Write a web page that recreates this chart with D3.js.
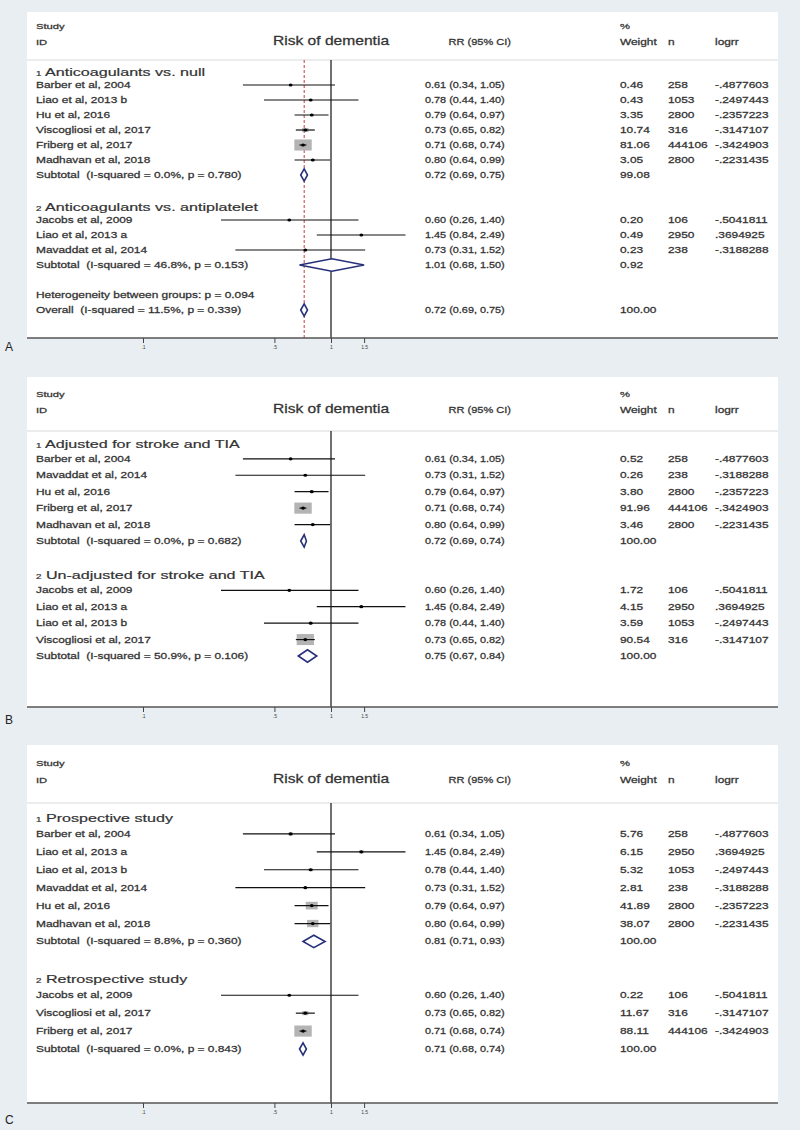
<!DOCTYPE html>
<html>
<head>
<meta charset="utf-8">
<script src="https://cdn.jsdelivr.net/npm/d3@7"></script>
<style>
html, body { margin: 0; padding: 0; background: #e8eef1; }
svg { display: block; font-family: "Liberation Sans", Arial, sans-serif; }
svg text { white-space: pre; }
</style>
</head>
<body>
<div id="chart"></div>
<script>
// studies (same estimates in every panel, only the weights change)
const studyNames = ["Barber et al, 2004", "Liao et al, 2013 a", "Liao et al, 2013 b", "Jacobs et al, 2009",
    "Mavaddat et al, 2014", "Hu et al, 2016", "Viscogliosi et al, 2017", "Friberg et al, 2017", "Madhavan et al, 2018"];
const studyRR = [0.61, 1.45, 0.78, 0.60, 0.73, 0.79, 0.73, 0.71, 0.80];
const studyLo = [0.34, 0.84, 0.44, 0.26, 0.31, 0.64, 0.65, 0.68, 0.64];
const studyHi = [1.05, 2.49, 1.40, 1.40, 1.52, 0.97, 0.82, 0.74, 0.99];
const studyN = [258, 2950, 1053, 106, 238, 2800, 316, 444106, 2800];
const studyLogrr = ["-.4877603", ".3694925", "-.2497443", "-.5041811", "-.3188288", "-.2357223", "-.3147107", "-.3424903", "-.2231435"];

// panel A
const groupsA = ["Anticoagulants vs. null", "Anticoagulants vs. antiplatelet"];
const membersA = [
    ["Barber et al, 2004", "Liao et al, 2013 b", "Hu et al, 2016", "Viscogliosi et al, 2017", "Friberg et al, 2017", "Madhavan et al, 2018"],
    ["Jacobs et al, 2009", "Liao et al, 2013 a", "Mavaddat et al, 2014"]
];
const weightsA = [[0.46, 0.43, 3.35, 10.74, 81.06, 3.05], [0.20, 0.49, 0.23]];
const subEstA = [[0.72, 0.69, 0.75], [1.01, 0.68, 1.50]];
const subStatA = ["I-squared = 0.0%, p = 0.780", "I-squared = 46.8%, p = 0.153"];
const subWeightA = ["99.08", "0.92"];
const hetTextA = "Heterogeneity between groups: p = 0.094";
const overallStatA = "I-squared = 11.5%, p = 0.339";
const overallEstA = [0.72, 0.69, 0.75];
const overallWeightA = "100.00";

// panel B
const groupsB = ["Adjusted for stroke and TIA", "Un-adjusted for stroke and TIA"];
const membersB = [
    ["Barber et al, 2004", "Mavaddat et al, 2014", "Hu et al, 2016", "Friberg et al, 2017", "Madhavan et al, 2018"],
    ["Jacobs et al, 2009", "Liao et al, 2013 a", "Liao et al, 2013 b", "Viscogliosi et al, 2017"]
];
const weightsB = [[0.52, 0.26, 3.80, 91.96, 3.46], [1.72, 4.15, 3.59, 90.54]];
const subEstB = [[0.72, 0.69, 0.74], [0.75, 0.67, 0.84]];
const subStatB = ["I-squared = 0.0%, p = 0.682", "I-squared = 50.9%, p = 0.106"];
const subWeightB = ["100.00", "100.00"];

// panel C
const groupsC = ["Prospective study", "Retrospective study"];
const membersC = [
    ["Barber et al, 2004", "Liao et al, 2013 a", "Liao et al, 2013 b", "Mavaddat et al, 2014", "Hu et al, 2016", "Madhavan et al, 2018"],
    ["Jacobs et al, 2009", "Viscogliosi et al, 2017", "Friberg et al, 2017"]
];
const weightsC = [[5.76, 6.15, 5.32, 2.81, 41.89, 38.07], [0.22, 11.67, 88.11]];
const subEstC = [[0.81, 0.71, 0.93], [0.71, 0.68, 0.74]];
const subStatC = ["I-squared = 8.8%, p = 0.360", "I-squared = 0.0%, p = 0.843"];
const subWeightC = ["100.00", "100.00"];

// axis
const tickValues = [0.1, 0.5, 1, 1.5];
const tickLabels = [".1", ".5", "1", "1.5"];

const W = 800, H = 1130;
const panelLeft = 27, panelRight = 778;
const col = { label: 36, rr: 425, weight: 620, n: 668, logrr: 715 };
const textColor = "#333";
const diamondColor = "#27307a";

const svg = d3.select("#chart").append("svg")
    .attr("width", W)
    .attr("height", H);

svg.append("rect")
    .attr("width", W)
    .attr("height", H)
    .attr("fill", "#e8eef1");

const x = d3.scaleLog().domain([0.1, 1]).range([143, 331]);

const fmt = d3.format(".2f");

// text is stretched sideways in the original picture
const txt = (g, px, py, s, o = {}) => g.append("text")
    .attr("transform", `translate(${px},${py}) scale(${o.sx || 1.4},1)`)
    .attr("dy", "0.35em")
    .attr("font-size", o.size || 8.5)
    .attr("text-anchor", o.anchor || "start")
    .attr("fill", o.fill || textColor)
    .attr("stroke", o.fill || textColor)
    .attr("stroke-width", 0.25)
    .text(s);

const buildRows = (groups, members, weights, subEst, subStat, subWeight) => {
    const rows = [];
    groups.forEach((title, gi) => {
        if (gi > 0) rows.push({ type: "blank" });
        rows.push({ type: "group", num: gi + 1, title });
        members[gi].forEach((name, si) => {
            const k = studyNames.indexOf(name);
            rows.push({
                type: "study", name,
                rr: studyRR[k], lo: studyLo[k], hi: studyHi[k],
                w: weights[gi][si], n: studyN[k], logrr: studyLogrr[k]
            });
        });
        rows.push({
            type: "sub", name: `Subtotal  (${subStat[gi]})`,
            rr: subEst[gi][0], lo: subEst[gi][1], hi: subEst[gi][2], wText: subWeight[gi]
        });
    });
    return rows;
};

const rowsA = buildRows(groupsA, membersA, weightsA, subEstA, subStatA, subWeightA);
rowsA.push({ type: "blank" });
rowsA.push({ type: "het", name: hetTextA });
rowsA.push({
    type: "sub", name: `Overall  (${overallStatA})`,
    rr: overallEstA[0], lo: overallEstA[1], hi: overallEstA[2], wText: overallWeightA
});
const rowsB = buildRows(groupsB, membersB, weightsB, subEstB, subStatB, subWeightB);
const rowsC = buildRows(groupsC, membersC, weightsC, subEstC, subStatC, subWeightC);

const drawPanel = (rows, lay) => {
    const g = svg.append("g");

    g.append("rect")
        .attr("x", panelLeft)
        .attr("y", lay.top)
        .attr("width", panelRight - panelLeft)
        .attr("height", lay.axisY - lay.top)
        .attr("fill", "#fff");

    g.append("line")
        .attr("x1", panelLeft).attr("x2", panelRight)
        .attr("y1", lay.headY).attr("y2", lay.headY)
        .attr("stroke", "#d6d9dc")
        .attr("stroke-width", 1.2);

    // header
    txt(g, col.label, lay.studyY, "Study", { size: 8 });
    txt(g, col.label, lay.idY, "ID", { size: 8 });
    txt(g, x(1), lay.idY - 1, "Risk of dementia", { size: 12, anchor: "middle", sx: 1.3 });
    txt(g, 511, lay.idY, "RR (95% CI)", { size: 8.5, anchor: "end", sx: 1.3 });
    txt(g, col.weight, lay.studyY, "%", { size: 8 });
    txt(g, col.weight, lay.idY, "Weight", { size: 8.5 });
    txt(g, col.n, lay.idY, "n", { size: 8.5 });
    txt(g, col.logrr, lay.idY, "logrr", { size: 8.5 });

    const y = d3.scaleLinear().domain([0, rows.length - 1]).range([lay.firstRow, lay.lastRow]);

    // reference lines
    g.append("line")
        .attr("x1", x(1)).attr("x2", x(1))
        .attr("y1", lay.headY).attr("y2", lay.axisY)
        .attr("stroke", "#111")
        .attr("stroke-width", 1.2);

    if (lay.overallLine) {
        g.append("line")
            .attr("x1", x(lay.overallLine)).attr("x2", x(lay.overallLine))
            .attr("y1", lay.headY).attr("y2", lay.axisY)
            .attr("stroke", "#cc3a3a")
            .attr("stroke-width", 1)
            .attr("stroke-dasharray", "3,2");
    }

    const studies = rows.map((r, i) => ({ ...r, i })).filter(r => r.type === "study");
    const maxW = d3.max(studies, d => d.w);
    const boxW = d3.scaleSqrt().domain([0, maxW]).range([0, 17.4]);

    g.append("g").selectAll("rect")
        .data(studies)
        .enter().append("rect")
        .attr("x", d => x(d.rr) - boxW(d.w) / 2)
        .attr("y", d => y(d.i) - boxW(d.w) * 0.32)
        .attr("width", d => boxW(d.w))
        .attr("height", d => boxW(d.w) * 0.64)
        .attr("fill", "#b4b4b4");

    g.append("g").selectAll("line")
        .data(studies)
        .enter().append("line")
        .attr("x1", d => x(d.lo))
        .attr("x2", d => x(d.hi))
        .attr("y1", d => y(d.i))
        .attr("y2", d => y(d.i))
        .attr("stroke", "#111")
        .attr("stroke-width", 1.2);

    g.append("g").selectAll("ellipse")
        .data(studies)
        .enter().append("ellipse")
        .attr("cx", d => x(d.rr))
        .attr("cy", d => y(d.i))
        .attr("rx", 1.9)
        .attr("ry", 1.6)
        .attr("fill", "#000");

    const subs = rows.map((r, i) => ({ ...r, i })).filter(r => r.type === "sub");
    g.append("g").selectAll("path")
        .data(subs)
        .enter().append("path")
        .attr("d", d => {
            const cy = y(d.i), h = 6.2;
            return `M${x(d.lo)},${cy}L${x(d.rr)},${cy - h}L${x(d.hi)},${cy}L${x(d.rr)},${cy + h}Z`;
        })
        .attr("fill", "#fff")
        .attr("stroke", diamondColor)
        .attr("stroke-width", 1.6);

    // text columns
    rows.forEach((r, i) => {
        const cy = y(i);
        if (r.type === "group") {
            const t = g.append("text")
                .attr("transform", `translate(${col.label},${cy}) scale(1.4,1)`)
                .attr("dy", "0.35em")
                .attr("fill", textColor)
                .attr("stroke", textColor)
                .attr("stroke-width", 0.2);
            t.append("tspan").attr("font-size", 7).text(r.num);
            t.append("tspan").attr("font-size", 11.5).text(" " + r.title);
        } else if (r.type === "het") {
            txt(g, col.label, cy, r.name);
        } else if (r.type === "study" || r.type === "sub") {
            txt(g, col.label, cy, r.name);
            txt(g, col.rr, cy, `${fmt(r.rr)} (${fmt(r.lo)}, ${fmt(r.hi)})`, { sx: 1.28 });
            txt(g, col.weight, cy, r.type === "study" ? fmt(r.w) : r.wText);
            if (r.type === "study") {
                txt(g, col.n, cy, r.n);
                txt(g, col.logrr, cy, r.logrr);
            }
        }
    });

    // axis
    g.append("line")
        .attr("x1", panelLeft).attr("x2", panelRight)
        .attr("y1", lay.axisY).attr("y2", lay.axisY)
        .attr("stroke", "#555")
        .attr("stroke-width", 1.5);

    const axis = g.append("g")
        .attr("transform", `translate(0,${lay.axisY})`)
        .call(d3.axisBottom(x)
            .tickValues(tickValues)
            .tickFormat((d, i) => tickLabels[i])
            .tickSize(5)
            .tickPadding(2));
    axis.select(".domain").remove();
    axis.selectAll(".tick line").attr("stroke", "#444");
    axis.selectAll(".tick text")
        .attr("font-size", 5)
        .attr("font-family", "Liberation Sans, Arial, sans-serif")
        .attr("fill", "#444");

    g.append("text")
        .attr("x", 5)
        .attr("y", lay.labelY)
        .attr("dy", "0.35em")
        .attr("font-size", 12)
        .attr("fill", "#222")
        .text(lay.label);
};

drawPanel(rowsA, { label: "A", top: 12, studyY: 26, idY: 42, headY: 60, axisY: 338, firstRow: 70, lastRow: 310, labelY: 347, overallLine: overallEstA[0] });
drawPanel(rowsB, { label: "B", top: 377, studyY: 394, idY: 410, headY: 431, axisY: 707, firstRow: 442.4, lastRow: 656, labelY: 720 });
drawPanel(rowsC, { label: "C", top: 745, studyY: 763, idY: 780, headY: 803, axisY: 1103, firstRow: 816, lastRow: 1049, labelY: 1120 });
</script>
</body>
</html>
